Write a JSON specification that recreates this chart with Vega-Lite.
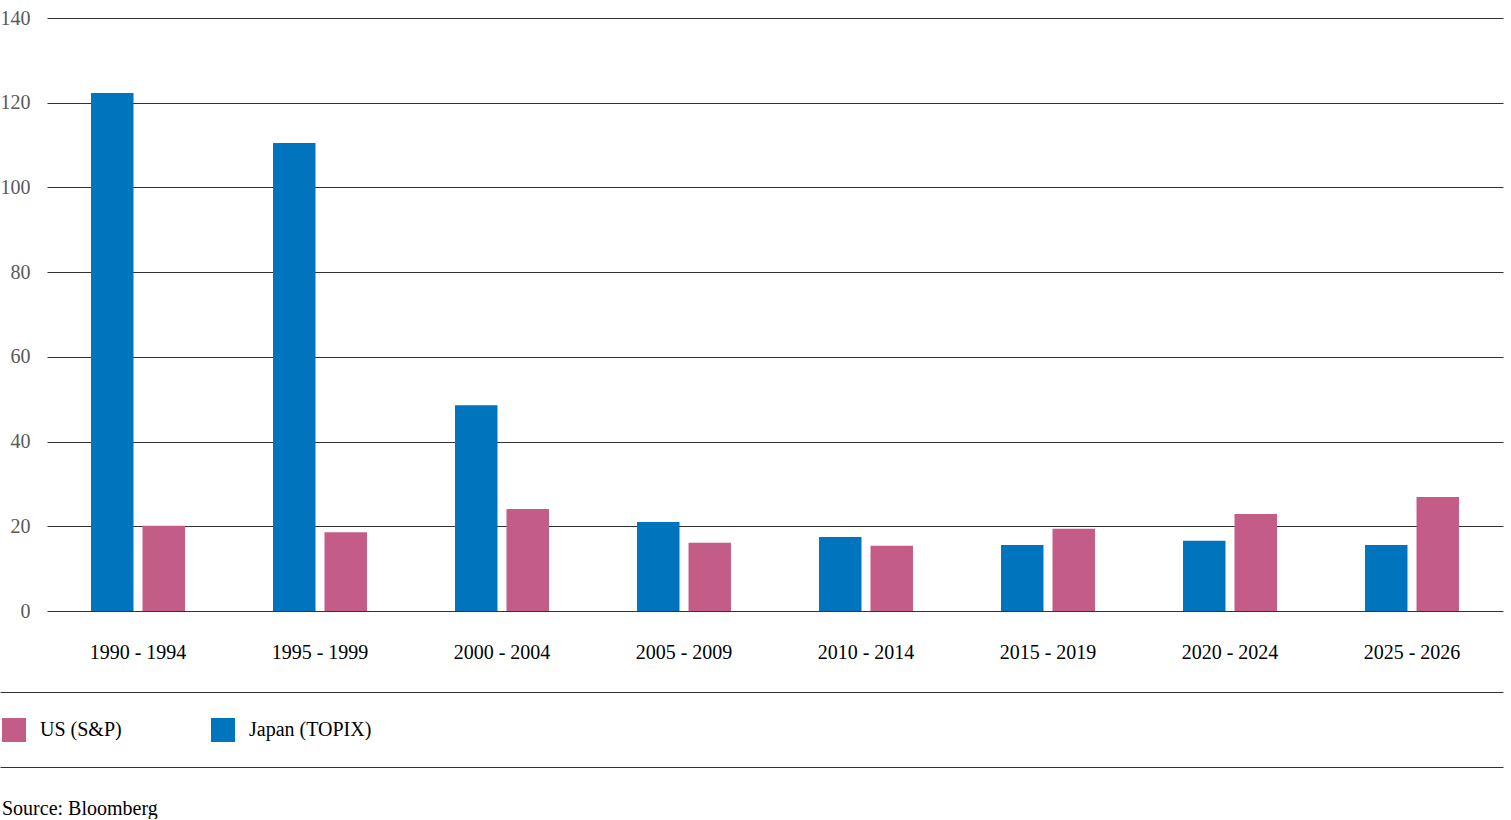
{
  "$schema": "https://vega.github.io/schema/vega-lite/v6.json",
  "background": "#FFFFFF",
  "padding": {"left": 0, "top": 8, "right": 0, "bottom": 0},
  "data": {
    "values": [
      {"period": "1990 - 1994", "series": "Japan (TOPIX)", "value": 122.3},
      {"period": "1990 - 1994", "series": "US (S&P)", "value": 20.1},
      {"period": "1995 - 1999", "series": "Japan (TOPIX)", "value": 110.5},
      {"period": "1995 - 1999", "series": "US (S&P)", "value": 18.6},
      {"period": "2000 - 2004", "series": "Japan (TOPIX)", "value": 48.6},
      {"period": "2000 - 2004", "series": "US (S&P)", "value": 24.1},
      {"period": "2005 - 2009", "series": "Japan (TOPIX)", "value": 21.0},
      {"period": "2005 - 2009", "series": "US (S&P)", "value": 16.1},
      {"period": "2010 - 2014", "series": "Japan (TOPIX)", "value": 17.5},
      {"period": "2010 - 2014", "series": "US (S&P)", "value": 15.4},
      {"period": "2015 - 2019", "series": "Japan (TOPIX)", "value": 15.6},
      {"period": "2015 - 2019", "series": "US (S&P)", "value": 19.4},
      {"period": "2020 - 2024", "series": "Japan (TOPIX)", "value": 16.6},
      {"period": "2020 - 2024", "series": "US (S&P)", "value": 22.9},
      {"period": "2025 - 2026", "series": "Japan (TOPIX)", "value": 15.6},
      {"period": "2025 - 2026", "series": "US (S&P)", "value": 26.9}
    ]
  },
  "title": {
    "text": "Source: Bloomberg",
    "orient": "bottom",
    "anchor": "start",
    "frame": "bounds",
    "font": "Liberation Serif",
    "fontSize": 20,
    "fontWeight": "normal",
    "color": "#000000",
    "offset": 32,
    "dx": 2
  },
  "spacing": 30,
  "vconcat": [
    {
      "width": 1456,
      "height": 593,
      "mark": {"type": "bar"},
      "encoding": {
        "x": {
          "field": "period",
          "type": "nominal",
          "sort": null,
          "scale": {"paddingInner": 0, "paddingOuter": 0},
          "axis": {
            "title": null,
            "labelAngle": 0,
            "ticks": false,
            "domain": false,
            "labelPadding": 31,
            "labelColor": "#000000",
            "labelFontSize": 20
          }
        },
        "xOffset": {
          "field": "series",
          "type": "nominal",
          "sort": ["Japan (TOPIX)", "US (S&P)"],
          "scale": {"paddingInner": 0.175, "paddingOuter": 0.855}
        },
        "y": {
          "field": "value",
          "type": "quantitative",
          "scale": {"domain": [0, 140], "nice": false},
          "axis": {
            "title": null,
            "values": [0, 20, 40, 60, 80, 100, 120, 140],
            "ticks": false,
            "domain": false,
            "grid": true,
            "gridColor": "#333333",
            "gridOpacity": 1,
            "labelPadding": 17,
            "labelColor": "#595959",
            "labelFontSize": 20
          }
        },
        "color": {
          "field": "series",
          "type": "nominal",
          "scale": {
            "domain": ["US (S&P)", "Japan (TOPIX)"],
            "range": ["#C45C88", "#0074BC"]
          },
          "legend": {
            "title": null,
            "orient": "none",
            "legendX": -45,
            "legendY": 700,
            "direction": "horizontal",
            "columns": 2,
            "columnPadding": 89,
            "symbolType": "square",
            "symbolSize": 576,
            "symbolStrokeWidth": 0,
            "symbolOpacity": 1,
            "labelOffset": 14,
            "labelFontSize": 20,
            "labelColor": "#000000"
          }
        }
      }
    },
    {
      "width": 1503,
      "height": 75,
      "layer": [
        {
          "mark": {"type": "point", "opacity": 0},
          "encoding": {
            "x": {
              "field": "value",
              "type": "quantitative",
              "axis": {"orient": "top", "position": -47, "title": null, "labels": false, "ticks": false, "grid": false, "domain": true, "domainColor": "#333333"}
            },
            "y": {"field": "value", "type": "quantitative", "axis": null}
          }
        },
        {
          "mark": {"type": "point", "opacity": 0},
          "encoding": {
            "x": {
              "field": "value",
              "type": "quantitative",
              "axis": {"orient": "bottom", "position": -47, "title": null, "labels": false, "ticks": false, "grid": false, "domain": true, "domainColor": "#333333"}
            },
            "y": {"field": "value", "type": "quantitative", "axis": null}
          }
        }
      ],
      "resolve": {"axis": {"x": "independent"}}
    }
  ],
  "resolve": {"scale": {"x": "independent", "y": "independent"}},
  "config": {
    "font": "Liberation Serif",
    "view": {"stroke": null}
  }
}
